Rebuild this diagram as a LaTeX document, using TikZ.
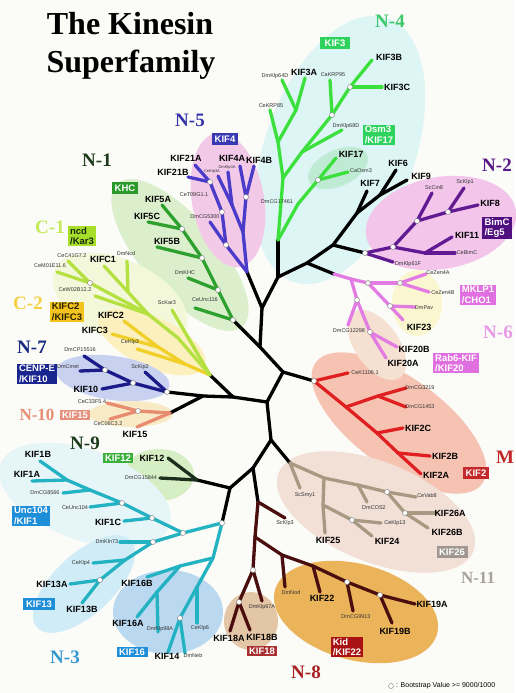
\documentclass[tikz,border=0pt]{standalone}
\usepackage{fontspec}
\setmainfont{Liberation Serif}
\setsansfont{Liberation Sans}
\definecolor{bgc}{HTML}{FBFBF8}
\definecolor{cN4}{HTML}{3CE03C}
\definecolor{cN5}{HTML}{4A3CC8}
\definecolor{cN1}{HTML}{2EA02E}
\definecolor{cC1}{HTML}{B4E040}
\definecolor{cC2}{HTML}{F0D028}
\definecolor{cN7}{HTML}{1A1A88}
\definecolor{cN10}{HTML}{E88C70}
\definecolor{cN9}{HTML}{1C2E1C}
\definecolor{cN3}{HTML}{22B2C2}
\definecolor{cN8}{HTML}{4A0E0E}
\definecolor{cN11}{HTML}{A89A82}
\definecolor{cM}{HTML}{E02020}
\definecolor{cN6}{HTML}{E27CE2}
\definecolor{cN2}{HTML}{621A92}
\definecolor{fN4}{HTML}{DDF5F5}
\definecolor{fK17}{HTML}{BFEBD5}
\definecolor{fN5}{HTML}{F3C9E8}
\definecolor{fN1}{HTML}{DCEFCD}
\definecolor{fC1}{HTML}{F4F8DA}
\definecolor{fC2}{HTML}{FBF0BE}
\definecolor{fN7}{HTML}{C9D1F0}
\definecolor{fN10}{HTML}{F9EAC6}
\definecolor{fN9}{HTML}{D6EEC4}
\definecolor{fN3}{HTML}{E6F5F8}
\definecolor{fK13}{HTML}{D0ECF7}
\definecolor{fK16}{HTML}{BAD9F0}
\definecolor{fK18}{HTML}{E3C6A6}
\definecolor{fKid}{HTML}{EBB45A}
\definecolor{fN11}{HTML}{F2E0D7}
\definecolor{fM}{HTML}{F6C3B3}
\definecolor{fN6a}{HTML}{FAF7D0}
\definecolor{fN6b}{HTML}{F5E0D2}
\definecolor{fN2}{HTML}{F3C5EB}
\begin{document}
\begin{tikzpicture}[x=1pt,y=-1pt,
 br/.style={line width=3.3pt, line cap=round, line join=round},
 wdot/.style={circle, draw=black!45, fill=white, line width=0.5pt, inner sep=0pt, minimum size=5pt},
 big/.style={font=\sffamily\bfseries\fontsize{9}{9}\selectfont, inner sep=0pt, text=black},
 sm/.style={font=\sffamily\fontsize{5.5}{6}\selectfont, inner sep=0pt, text=black!80},
 tinylab/.style={font=\sffamily\fontsize{4}{4}\selectfont, inner sep=0pt, text=black!80},
 cl/.style={font=\rmfamily\bfseries\fontsize{19}{19}\selectfont, inner sep=0pt},
 bx/.style={font=\sffamily\bfseries\fontsize{9.5}{10.5}\selectfont, inner xsep=2.2pt, inner ysep=1.6pt, minimum height=11.5pt, text=white, align=left},
]
\useasboundingbox (0,0) rectangle (515,693);
\fill[bgc] (0,0) rectangle (515,693);

% ---------- clade shading ----------
\fill[fN4, rotate around={-20:(340,150)}] (340,150) ellipse [x radius=75, y radius=140];
\fill[fK17, rotate around={25:(338,168)}] (338,168) ellipse [x radius=32, y radius=18];
\fill[fN1, rotate around={-49:(180,255)}] (180,255) ellipse [x radius=95, y radius=38];
\fill[fN5, rotate around={10:(228,200)}] (228,200) ellipse [x radius=36, y radius=68];
\fill[fC1, rotate around={-25:(120,300)}] (120,300) ellipse [x radius=72, y radius=40];
\fill[fC2, rotate around={-25:(152,342)}] (152,342) ellipse [x radius=58, y radius=25];
\fill[fN7, rotate around={-8:(113,378)}] (113,378) ellipse [x radius=57, y radius=22];
\fill[fN10] (131,414) ellipse [x radius=42, y radius=13];
\fill[fN9] (159,475) ellipse [x radius=35, y radius=26];
\fill[fN3, rotate around={-20:(85,495)}] (85,495) ellipse [x radius=90, y radius=45];
\fill[fK13, rotate around={43:(84,584)}] (84,584) ellipse [x radius=64, y radius=30];
\fill[fK16] (168,612) ellipse [x radius=55, y radius=42];
\fill[fM, rotate around={-36:(399,423)}] (399,423) ellipse [x radius=103, y radius=45];
\fill[fN11, rotate around={-22:(376,512)}] (376,512) ellipse [x radius=105, y radius=50];
\fill[fKid, rotate around={-15:(356,612)}] (356,612) ellipse [x radius=84, y radius=48];
\fill[fK18] (251,621) ellipse [x radius=27, y radius=29];
\fill[fN6a] (417,303) ellipse [x radius=25, y radius=33];
\fill[fN6b, rotate around={-55:(377,345)}] (377,345) ellipse [x radius=40, y radius=22];
\fill[fN2, rotate around={10:(441,223)}] (441,223) ellipse [x radius=76, y radius=46];

% ---------- coordinates ----------
\foreach \n/\x/\y in {R0/283/372, B1/260/347, B2/262/308, B3/278/277, B4/307/263, B5/333/245,
  B6/357/213, B7/380/195, K7/367/191, K6/396/170, K9/407/180,
  N1r/233/320, N5r/247/272, N4r/278/240, N6r/334/274, N2r/365/253, Mr/314/381,
  L1/267/402, L2/233/397, L3/203/396, Cr/210/375, N7r/167/392, N10r/170/413,
  D1/271/440, N11r/290/463, D2/253/468, N8r/258/502, D3/230/488, N9r/197/480, N3r/222/523,
  % N-4
  N4a/283/178, N4b/278/142, lCeKRP85/270/110, N4c/296/110, lKIF3A/305/78, lDmKlp64D/282/80,
  N4d/302/152, lDmKlp68D/342/130, N4e/332/115, lCaKRP95/330/80, N4f/350/87, lKIF3B/372/60,
  lKIF3C/382/87, N4g/298/204, N4h/318/180, lKIF17/336/158, lCaOsm3/348/172,
  % N-5
  N5d/243/232, N5k/246/197, lKIF4B/254/166, lKIF4A/240/166, N5e/232/205, lDmKlp3A/228/172,
  lCeKlp3A/218/176, N5c/226/245, lDmCG5300/210/222, N5b/222/212, N5a/210/182,
  lKIF21A/195/165, lKIF21B/188/177,
  % N-1
  n1c/218/290, n1b/202/258, n1a/182/229, lKIF5A/162/205, lKIF5C/148/222, lKIF5B/157/247,
  lDmKHC/188/278, lCeUnc116/195/308,
  % C
  nC2/185/364, lCeKlp3/137/349, nC2b/158/347, lKIFC2/124/321, lKIFC3/112/334,
  nC1/178/338, nC1e/148/314, nC1a/90/283, lCeC41/68/261, lCeM01/57/272, lCeW02/95/296,
  nC1d/128/292, lKIFC1/104/266, lDmNcd/127/261, lScKar3/172/310,
  % N-7
  N7a/105/370, N7b/133/383, lDmCP/84/356, lDmCmet/80/371, lScKip2/145/372, lKIF10/102/389,
  % N-10
  N10a/138/411, lCeC33/107/403, lCeC06/110/419, lKIF15/137/427,
  % N-9
  lKIF12/168/458, lDmCG15844/160/478,
  % N-3
  N3a/183/533, N3b/152/518, N3c/122/503, N3d/90/490, N3e/67/480, lKIF1B/40/461, lKIF1A/32/481,
  lDmCG8566/63/493, lCeUnc104/90/507, lKIF1C/124/521, N3f/153/542, lDmKln73/120/542,
  N3g/125/560, lCeKlp4/93/563, N3h/100/580, lKIF13A/70/584, lKIF13B/82/603,
  N3i/213/558, N3j/180/566, lKIF16B/147/577, N3k/157/592, lKIF16A/137/617, lDmKlp98A/158/632,
  N3l/197/587, lCeKlp6/197/623, N3m/180/618, lKIF14/168/652, lDmNeb/185/653,
  % N-8
  N8a/255/537, N8b/253/570, N8c/239/602, lKIF18A/230/631, lKIF18B/250/630, lDmKlp67A/262/601,
  lScKlp3/285/518, N8d/282/555, lDmNod/285/587, N8e/313/566, lKIF22/320/592, N8f/347/582,
  lDmCG9913/353/611, N8g/380/595, lKIF19B/392/623, lKIF19A/415/604,
  % N-11
  N11a/324/478, N11b/323/505, lKIF25/325/533, N11c/352/520, lCeKlp13/381/523, lKIF24/372/536,
  N11d/358/485, lDmCOS2/367/502, N11e/387/492, lCeVab8/416/497, N11f/405/513, lKIF26A/436/513,
  lKIF26B/428/528, lScSmy1/300/488,
  % M
  Ma/346/407, Mb/378/396, lDmCG3219/406/388, lDmCG1453/406/407, Mc/377/433, lKIF2C/403/428,
  Md/398/453, lKIF2B/430/456, lKIF2A/421/474, lCeK/348/373,
  % N-6
  N6x/351/279, N6a/368/283, N6b/400/283, lCeZen4A/426/274, lCeZen4B/429/292, N6c/390/306,
  lDmPav/415/307, lKIF23/403/320, N6d/357/300, lDmCG12298/348/325, N6e/370/332,
  lKIF20B/397/347, lKIF20A/386/358,
  % N-2
  N2a/393/247, N2b/425/253, lKIF11/452/237, lCeBimC/455/253, N2c/417/221, lScCin8/432/193,
  N2d/448/212, lScKlp1/464/188, lKIF8/478/205, lDmKlp61F/393/262}
  \coordinate (\n) at (\x,\y);

% ---------- branches ----------
\foreach \a/\b in {R0/Mr, R0/B1, B1/N1r, B1/B2, B2/N5r, B2/B3, B3/N4r, B3/B4, B4/N6r, B4/B5,
  B5/N2r, B5/B6, B6/K7, B6/B7, B7/K6, B7/K9, R0/L1, L1/L2, L2/Cr, L2/L3, L3/N7r, L3/N10r,
  L1/D1, D1/N11r, D1/D2, D2/N8r, D2/D3, D3/N9r, D3/N3r}
  \draw[br, black] (\a) -- (\b);
\foreach \a/\b in {N4r/N4a, N4a/N4b, N4b/lCeKRP85, N4b/N4c, N4c/lKIF3A, N4c/lDmKlp64D, N4a/N4d,
  N4d/lDmKlp68D, N4d/N4e, N4e/lCaKRP95, N4e/N4f, N4f/lKIF3B, N4f/lKIF3C, N4r/N4g, N4g/N4h,
  N4h/lKIF17, N4h/lCaOsm3}
  \draw[br, cN4] (\a) -- (\b);
\foreach \a/\b in {N5r/N5d, N5d/N5k, N5k/lKIF4B, N5k/lKIF4A, N5d/N5e, N5e/lDmKlp3A, N5e/lCeKlp3A,
  N5r/N5c, N5c/lDmCG5300, N5c/N5b, N5b/N5a, N5a/lKIF21A, N5a/lKIF21B}
  \draw[br, cN5] (\a) -- (\b);
\foreach \a/\b in {N1r/n1c, n1c/n1b, n1b/n1a, n1a/lKIF5A, n1a/lKIF5C, n1b/lKIF5B, n1c/lDmKHC,
  N1r/lCeUnc116}
  \draw[br, cN1] (\a) -- (\b);
\foreach \a/\b in {Cr/nC2, nC2/lCeKlp3, nC2/nC2b, nC2b/lKIFC2, nC2b/lKIFC3}
  \draw[br, cC2] (\a) -- (\b);
\foreach \a/\b in {Cr/lScKar3, Cr/nC1, nC1/nC1e, nC1e/nC1a, nC1a/lCeC41, nC1a/lCeM01, nC1e/lCeW02,
  nC1e/nC1d, nC1d/lKIFC1, nC1d/lDmNcd}
  \draw[br, cC1] (\a) -- (\b);
\foreach \a/\b in {N7r/N7b, N7b/N7a, N7a/lDmCP, N7a/lDmCmet, N7r/lScKip2, N7b/lKIF10}
  \draw[br, cN7] (\a) -- (\b);
\foreach \a/\b in {N10r/N10a, N10a/lCeC33, N10a/lCeC06, N10r/lKIF15}
  \draw[br, cN10] (\a) -- (\b);
\foreach \a/\b in {N9r/lKIF12, N9r/lDmCG15844}
  \draw[br, cN9] (\a) -- (\b);
\foreach \a/\b in {N3r/N3a, N3a/N3b, N3b/N3c, N3c/N3d, N3d/N3e, N3e/lKIF1B, N3e/lKIF1A,
  N3d/lDmCG8566, N3c/lCeUnc104, N3b/lKIF1C, N3a/N3f, N3f/lDmKln73, N3f/N3g, N3g/lCeKlp4,
  N3g/N3h, N3h/lKIF13A, N3h/lKIF13B, N3r/N3i, N3i/N3j, N3j/lKIF16B, N3j/N3k, N3k/lKIF16A,
  N3k/lDmKlp98A, N3i/N3l, N3l/lCeKlp6, N3l/N3m, N3m/lKIF14, N3m/lDmNeb}
  \draw[br, cN3] (\a) -- (\b);
\foreach \a/\b in {N8r/lScKlp3, N8r/N8a, N8a/N8b, N8b/N8c, N8c/lKIF18A, N8c/lKIF18B,
  N8b/lDmKlp67A, N8a/N8d, N8d/lDmNod, N8d/N8e, N8e/lKIF22, N8e/N8f, N8f/lDmCG9913,
  N8f/N8g, N8g/lKIF19B, N8g/lKIF19A}
  \draw[br, cN8] (\a) -- (\b);
\foreach \a/\b in {N11r/lScSmy1, N11r/N11a, N11a/N11b, N11b/lKIF25, N11b/N11c, N11c/lCeKlp13,
  N11c/lKIF24, N11a/N11d, N11d/lDmCOS2, N11d/N11e, N11e/lCeVab8, N11e/N11f, N11f/lKIF26A,
  N11f/lKIF26B}
  \draw[br, cN11] (\a) -- (\b);
\foreach \a/\b in {Mr/lCeK, Mr/Ma, Ma/Mb, Mb/lDmCG3219, Mb/lDmCG1453, Ma/Mc, Mc/lKIF2C,
  Mc/Md, Md/lKIF2B, Md/lKIF2A}
  \draw[br, cM] (\a) -- (\b);
\foreach \a/\b in {N6r/N6x, N6x/N6a, N6a/N6b, N6b/lCeZen4A, N6b/lCeZen4B, N6a/N6c, N6c/lDmPav,
  N6c/lKIF23, N6x/N6d, N6d/lDmCG12298, N6d/N6e, N6e/lKIF20B, N6e/lKIF20A}
  \draw[br, cN6] (\a) -- (\b);
\foreach \a/\b in {N2r/lDmKlp61F, N2r/N2a, N2a/N2b, N2b/lKIF11, N2b/lCeBimC, N2a/N2c,
  N2c/lScCin8, N2c/N2d, N2d/lScKlp1, N2d/lKIF8}
  \draw[br, cN2] (\a) -- (\b);

% ---------- bootstrap dots ----------
\foreach \p in {N4e, N4f, N4h, N5a, N5b, N5c, N5k, N1r, n1c, n1b, n1a, N2r, N2a, N2c, N2d,
  N6a, N6b, N6c, N6d, N6e, Mr, N7r, N7b, N7a, N10a, nC1a, N3r, N3a, N3b, N3c, N3f, N3h, N3m,
  N8b, N8c, N8f, N8g, N11c, N11e, N11f}
  \node[wdot] (d\p) at (\p) {};

% ---------- bold leaf labels ----------
\foreach \nm/\x/\y/\t in {t1/304/72/KIF3A, t2/389/57/KIF3B, t3/397/87/KIF3C, t4/351/154/KIF17,
  t5/398/163/KIF6, t6/421/176/KIF9, t7/370/183/KIF7, t8/186/158/KIF21A, t9/173/172/KIF21B,
  t10/232/158/KIF4A, t11/259/160/KIF4B, t12/158/199/KIF5A, t13/147/216/KIF5C, t14/167/241/KIF5B,
  t15/103/259/KIFC1, t16/111/315/KIFC2, t17/95/330/KIFC3, t18/86/389/KIF10, t19/135/434/KIF15,
  t20/152/458/KIF12, t21/38/454/KIF1B, t22/27/474/KIF1A, t23/108/522/KIF1C, t24/52/584/KIF13A,
  t25/82/609/KIF13B, t26/137/583/KIF16B, t27/128/623/KIF16A, t28/167/656/KIF14,
  t29/229/638/KIF18A, t30/262/637/KIF18B, t31/322/598/KIF22, t32/395/631/KIF19B,
  t33/432/604/KIF19A, t34/328/540/KIF25, t35/387/541/KIF24, t36/450/513/KIF26A,
  t37/447/532/KIF26B, t38/418/428/KIF2C, t39/445/456/KIF2B, t40/436/475/KIF2A,
  t41/419/327/KIF23, t42/414/349/KIF20B, t43/403/363/KIF20A, t44/490/203/KIF8, t45/467/235/KIF11}
  \node[big] (\nm) at (\x,\y) {\t};

% ---------- small leaf labels ----------
\foreach \nm/\x/\y/\t in {s1/275/76/DmKlp64D, s2/333/75/CaKRP95, s3/271/106/CeKRP85,
  s4/346/126/DmKlp68D, s5/361/171/CaOsm3, s6/277/202/DmCG17461, s7/194/195/CeT09G1.1,
  s8/205/217/DmCG5300, s9/185/273/DmKHC, s10/205/300/CeUnc116, s11/72/256/CeC41G7.2,
  s12/50/266/CeM01E11.6, s13/126/254/DmNcd, s14/75/290/CeW02B12.2, s15/167/303/ScKar3,
  s16/130/342/CeKlp3, s17/80/350/DmCP15516, s18/68/367/DmCmet, s19/140/367/ScKip2,
  s20/92/402/CeC33F5.4, s21/108/424/CeC06C3.2, s22/141/478/DmCG15844, s23/45/493/DmCG8566,
  s24/75/508/CeUnc104, s25/107/542/DmKln73, s26/81/563/CeKlp4, s27/160/629/DmKlp98A,
  s28/200/628/CeKlp6, s29/193/656/DmNeb, s30/262/607/DmKlp67A, s31/285/523/ScKlp3,
  s32/291/593/DmNod, s33/356/617/DmCG9913, s34/305/495/ScSmy1, s35/374/508/DmCOS2,
  s36/395/523/CeKlp13, s37/427/496/CeVab8, s38/365/373/CeK1106.1, s39/420/388/DmCG3219,
  s40/420/407/DmCG1453, s41/438/273/CeZen4A, s42/443/293/CeZen4B, s43/424/308/DmPav,
  s44/349/331/DmCG12298, s45/434/188/ScCin8, s46/465/182/ScKlp1, s47/467/253/CeBimC,
  s48/408/264/DmKlp61F}
  \node[sm] (\nm) at (\x,\y) {\t};
\node[tinylab] (s49) at (227,167) {DmKlp3A};
\node[tinylab] (s50) at (212,171) {CeKlp3A};

% ---------- family boxes ----------
\node[bx, fill={rgb,255:red,46;green,211;blue,94}, minimum width=30pt] (bKIF3) at (335,43) {KIF3};
\node[bx, fill={rgb,255:red,46;green,211;blue,94}] (bOsm3) at (379,135) {Osm3\\/KIF17};
\node[bx, fill={rgb,255:red,56;green,56;blue,176}, minimum width=26pt] (bKIF4) at (225,139) {KIF4};
\node[bx, fill={rgb,255:red,42;green,154;blue,42}, minimum width=26pt] (bKHC) at (125,188) {KHC};
\node[bx, fill={rgb,255:red,166;green,222;blue,42}, text={rgb,255:red,26;green,42;blue,16}] (bncd) at (82,236) {ncd\\/Kar3};
\node[bx, fill={rgb,255:red,244;green,196;blue,30}, text={rgb,255:red,42;green,32;blue,0}] (bKIFC) at (67,312) {KIFC2\\/KIFC3};
\node[bx, fill={rgb,255:red,26;green,38;blue,144}] (bCENPE) at (37,374) {CENP-E\\/KIF10};
\node[bx, fill={rgb,255:red,228;green,144;blue,124}, minimum height=10pt] (bKIF15) at (75,415) {KIF15};
\node[bx, fill={rgb,255:red,60;green,176;blue,60}, minimum width=30pt, minimum height=10pt] (bKIF12) at (118,458) {KIF12};
\node[bx, fill={rgb,255:red,30;green,142;blue,216}] (bUnc) at (31,516) {Unc104\\/KIF1};
\node[bx, fill={rgb,255:red,30;green,142;blue,216}, minimum width=32pt] (bKIF13) at (39,604) {KIF13};
\node[bx, fill={rgb,255:red,30;green,142;blue,216}, minimum width=31pt, minimum height=10pt] (bKIF16) at (132,652) {KIF16};
\node[bx, fill={rgb,255:red,168;green,48;blue,48}, minimum width=30pt, minimum height=10pt] (bKIF18) at (262,651) {KIF18};
\node[bx, fill={rgb,255:red,168;green,18;blue,18}] (bKid) at (347,647) {Kid\\/KIF22};
\node[bx, fill={rgb,255:red,160;green,152;blue,144}, minimum width=31pt] (bKIF26) at (452,552) {KIF26};
\node[bx, fill={rgb,255:red,196;green,40;blue,40}, minimum width=26pt] (bKIF2) at (476,473) {KIF2};
\node[bx, fill={rgb,255:red,224;green,112;blue,224}] (bRab6) at (456,363) {Rab6-KIF\\/KIF20};
\node[bx, fill={rgb,255:red,224;green,112;blue,224}] (bMKLP) at (478,295) {MKLP1\\/CHO1};
\node[bx, fill={rgb,255:red,80;green,16;blue,128}] (bBimC) at (497,228) {BimC\\/Eg5};

% ---------- clade names ----------
\node[cl, text={rgb,255:red,60;green,200;blue,106}] (cN4) at (390,21) {N-4};
\node[cl, text={rgb,255:red,52;green,52;blue,168}] (cN5) at (190,120) {N-5};
\node[cl, text={rgb,255:red,28;green,58;blue,28}] (cN1) at (97,160) {N-1};
\node[cl, text={rgb,255:red,88;green,24;blue,136}] (cN2) at (497,165) {N-2};
\node[cl, text={rgb,255:red,196;green,234;blue,90}] (cC1) at (50,227) {C-1};
\node[cl, text={rgb,255:red,242;green,208;blue,64}] (cC2) at (28,303) {C-2};
\node[cl, text={rgb,255:red,26;green,42;blue,128}] (cN7) at (32,347) {N-7};
\node[cl, text={rgb,255:red,232;green,154;blue,232}] (cN6) at (498,332) {N-6};
\node[cl, text={rgb,255:red,232;green,140;blue,116}, font=\rmfamily\bfseries\fontsize{17}{17}\selectfont] (cN10) at (37,415) {N-10};
\node[cl, text={rgb,255:red,192;green,40;blue,40}] (cM) at (505,457) {M};
\node[cl, text={rgb,255:red,28;green,58;blue,28}] (cN9) at (85,443) {N-9};
\node[cl, text={rgb,255:red,168;green,162;blue,154}, font=\rmfamily\bfseries\fontsize{17}{17}\selectfont] (cN11) at (478,578) {N-11};
\node[cl, text={rgb,255:red,52;green,152;blue,210}] (cN3) at (65,657) {N-3};
\node[cl, text={rgb,255:red,168;green,32;blue,32}] (cN8) at (306,672) {N-8};

% ---------- title ----------
\node[font=\rmfamily\bfseries\fontsize{32}{32}\selectfont, anchor=base, inner sep=0pt] (title1) at (130,35) {The Kinesin};
\node[font=\rmfamily\bfseries\fontsize{32}{32}\selectfont, anchor=base, inner sep=0pt] (title2) at (131,73) {Superfamily};

% ---------- legend ----------
\node[wdot] (lgdot) at (391,686) {};
\node[font=\sffamily\fontsize{7}{7}\selectfont, anchor=west, inner sep=0pt] (lgtext) at (396,686) {: Bootstrap Value >= 9000/1000};
\end{tikzpicture}
\end{document}
